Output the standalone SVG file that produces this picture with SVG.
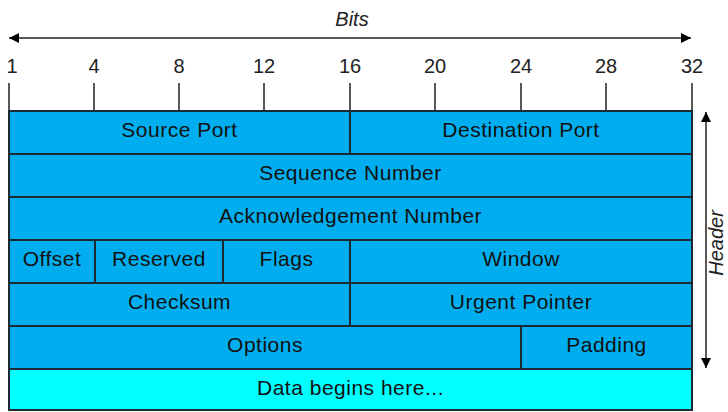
<svg xmlns="http://www.w3.org/2000/svg" width="728" height="412" viewBox="0 0 728 412">
<defs>
<marker id="ah" viewBox="0 0 10 10" refX="10" refY="5" markerWidth="10" markerHeight="10" markerUnits="userSpaceOnUse" orient="auto-start-reverse">
<path d="M0,0 L10,5 L0,10 z" fill="#000"/>
</marker>
<style>
.c{fill:#00AEEF;stroke:#1c2a33;stroke-width:2}
.d{fill:#00FFFF;stroke:#1c2a33;stroke-width:2}
.t{font-family:"Liberation Sans",Arial,sans-serif;font-size:21px;letter-spacing:0.5px;fill:#111;text-anchor:middle}
.n{font-family:"Liberation Sans",Arial,sans-serif;font-size:20px;fill:#222;text-anchor:middle}
.i{font-family:"Liberation Sans",Arial,sans-serif;font-size:20px;font-style:italic;fill:#222;text-anchor:middle}
.l{stroke:#222;stroke-width:1.5;fill:none}
</style>
</defs>
<rect width="728" height="412" fill="#fff"/>
<g id="scale">
<text class="i" x="352" y="26">Bits</text>
<text class="n" x="12" y="73">1</text>
<text class="n" x="94" y="73">4</text>
<text class="n" x="179" y="73">8</text>
<text class="n" x="264" y="73">12</text>
<text class="n" x="350" y="73">16</text>
<text class="n" x="435" y="73">20</text>
<text class="n" x="521" y="73">24</text>
<text class="n" x="606" y="73">28</text>
<text class="n" x="692" y="73">32</text>
<path class="l" d="M9,83V111M94,83V111M179,83V111M264,83V111M350,83V111M435,83V111M521,83V111M606,83V111M692,83V111"/>
<text class="i" transform="translate(723,243) rotate(-90)">Header</text>
</g>
<g id="connectors">
<line class="l" x1="9" y1="38" x2="691" y2="38" marker-start="url(#ah)" marker-end="url(#ah)"/>
<line class="l" x1="706" y1="112" x2="706" y2="368" marker-start="url(#ah)" marker-end="url(#ah)"/>
</g>
<g id="source-port"><rect class="c" x="9" y="111" width="341" height="43"/><text class="t" x="179.5" y="137">Source Port</text></g>
<g id="destination-port"><rect class="c" x="350" y="111" width="342" height="43"/><text class="t" x="521" y="137">Destination Port</text></g>
<g id="sequence-number"><rect class="c" x="9" y="154" width="683" height="43"/><text class="t" x="350.5" y="180">Sequence Number</text></g>
<g id="ack-number"><rect class="c" x="9" y="197" width="683" height="43"/><text class="t" x="350.5" y="223">Acknowledgement Number</text></g>
<g id="offset"><rect class="c" x="9" y="240" width="86" height="43"/><text class="t" x="52" y="266">Offset</text></g>
<g id="reserved"><rect class="c" x="95" y="240" width="128" height="43"/><text class="t" x="159" y="266">Reserved</text></g>
<g id="flags"><rect class="c" x="223" y="240" width="127" height="43"/><text class="t" x="286.5" y="266">Flags</text></g>
<g id="window"><rect class="c" x="350" y="240" width="342" height="43"/><text class="t" x="521" y="266">Window</text></g>
<g id="checksum"><rect class="c" x="9" y="283" width="341" height="43"/><text class="t" x="179.5" y="309">Checksum</text></g>
<g id="urgent-pointer"><rect class="c" x="350" y="283" width="342" height="43"/><text class="t" x="521" y="309">Urgent Pointer</text></g>
<g id="options"><rect class="c" x="9" y="326" width="512" height="43"/><text class="t" x="265" y="352">Options</text></g>
<g id="padding"><rect class="c" x="521" y="326" width="171" height="43"/><text class="t" x="606.5" y="352">Padding</text></g>
<g id="data"><rect class="d" x="9" y="369" width="683" height="41"/><text class="t" x="350.5" y="395">Data begins here...</text></g>
</svg>
